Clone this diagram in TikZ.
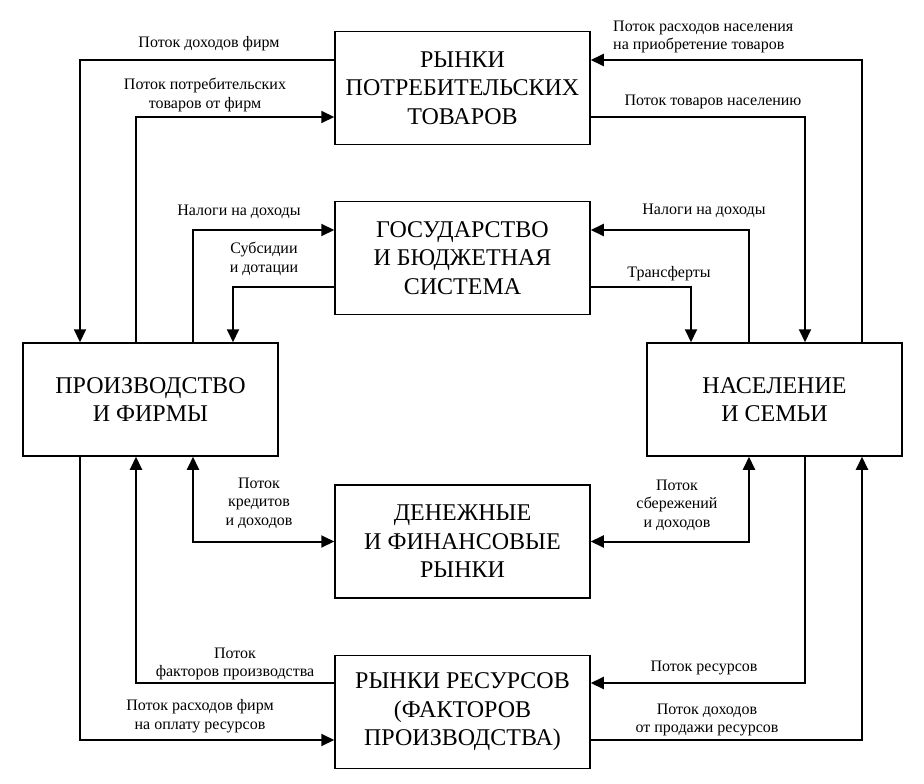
\documentclass[tikz,border=0pt]{standalone}
\usepackage{fontspec}
\setmainfont{Liberation Serif}[Ligatures=TeX]
\usetikzlibrary{arrows.meta,positioning}
\tikzset{>={Triangle[length=13pt,width=12pt]}}
\tikzset{box/.style={draw,line width=1.5pt,minimum width=255pt,minimum height=113pt,
    align=center,inner sep=0pt,font=\rmfamily\fontsize{24}{28.5}\selectfont},
  lbl/.style={align=center,inner sep=0pt,font=\rmfamily\fontsize{16}{18.5}\selectfont},
  flow/.style={->,line width=2pt}}

\begin{document}
\begin{tikzpicture}[x=1pt,y=-1pt]
      \useasboundingbox (0,0) rectangle (924,784);
      \node [box] (cons) at (462.5,88) {РЫНКИ\\ПОТРЕБИТЕЛЬСКИХ\\ТОВАРОВ};
      \node [box] (gov) at (462.5,258) {ГОСУДАРСТВО\\И БЮДЖЕТНАЯ\\СИСТЕМА};
      \node [box] (firms) at (150.5,399.5) {ПРОИЗВОДСТВО\\И ФИРМЫ};
      \node [box] (hh) at (774.5,399.5) {НАСЕЛЕНИЕ\\И СЕМЬИ};
      \node [box] (money) at (462.5,541.5) {ДЕНЕЖНЫЕ\\И ФИНАНСОВЫЕ\\РЫНКИ};
      \node [box] (res) at (462.5,712) {РЫНКИ РЕСУРСОВ\\(ФАКТОРОВ\\ПРОИЗВОДСТВА)};

      \coordinate (l1) at (80,0);
      \coordinate (l2) at (136,0);
      \coordinate (l3) at (193,0);
      \coordinate (l4) at (233,0);
      \coordinate (r1) at (691,0);
      \coordinate (r2) at (749,0);
      \coordinate (r3) at (805,0);
      \coordinate (r4) at (862,0);

      \draw [flow] ([yshift=28pt]cons.west) -| (firms.north -| l1);
      \draw [flow] (firms.north -| l2) |- ([yshift=-29pt]cons.west);
      \draw [flow] (firms.north -| l3) |- ([yshift=28pt]gov.west);
      \draw [flow] ([yshift=-29pt]gov.west) -| (firms.north -| l4);
      \draw [flow] (hh.north -| r4) |- ([yshift=28pt]cons.east);
      \draw [flow] ([yshift=-29pt]cons.east) -| (hh.north -| r3);
      \draw [flow] (hh.north -| r2) |- ([yshift=28pt]gov.east);
      \draw [flow] ([yshift=-29pt]gov.east) -| (hh.north -| r1);

      \draw [flow,<->] (firms.south -| l3) |- (money.west);
      \draw [flow,<->] (hh.south -| r2) |- (money.east);
      \draw [flow] ([yshift=29pt]res.west) -| (firms.south -| l2);
      \draw [flow] (firms.south -| l1) |- ([yshift=-28pt]res.west);
      \draw [flow] (hh.south -| r3) |- ([yshift=29pt]res.east);
      \draw [flow] ([yshift=-28pt]res.east) -| (hh.south -| r4);

      \node [lbl] (t1) at (209,44) {Поток доходов фирм};
      \node [lbl] (t2) at (205,95) {Поток потребительских\\товаров от фирм};
      \node [lbl] (t3) at (239,212) {Налоги на доходы};
      \node [lbl] (t4) at (264,259) {Субсидии\\и дотации};
      \node [lbl,align=left,anchor=west] (t5) at (613,37) {Поток расходов населения\\на приобретение товаров};
      \node [lbl] (t6) at (713,102) {Поток товаров населению};
      \node [lbl] (t7) at (704,211) {Налоги на доходы};
      \node [lbl] (t8) at (669,274) {Трансферты};
      \node [lbl] (t9) at (259,503) {Поток\\кредитов\\и доходов};
      \node [lbl] (t10) at (677,505) {Поток\\сбережений\\и доходов};
      \node [lbl] (t11) at (235,664) {Поток\\факторов производства};
      \node [lbl] (t12) at (200,716) {Поток расходов фирм\\на оплату ресурсов};
      \node [lbl] (t13) at (704,668) {Поток ресурсов};
      \node [lbl] (t14) at (707,720) {Поток доходов\\от продажи ресурсов};
\end{tikzpicture}
\end{document}
